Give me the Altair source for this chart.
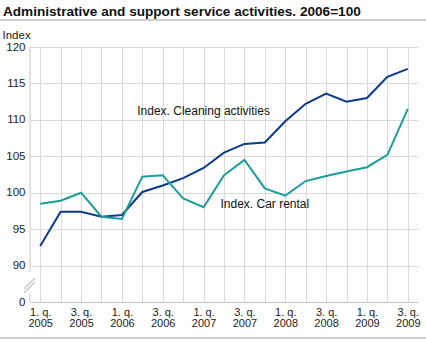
import altair as alt
import pandas as pd

quarters = ["2005Q1", "2005Q2", "2005Q3", "2005Q4",
            "2006Q1", "2006Q2", "2006Q3", "2006Q4",
            "2007Q1", "2007Q2", "2007Q3", "2007Q4",
            "2008Q1", "2008Q2", "2008Q3", "2008Q4",
            "2009Q1", "2009Q2", "2009Q3"]
cleaning = [92.7, 97.4, 97.4, 96.7, 96.95, 100.1, 101.0, 102.0, 103.4, 105.5,
            106.7, 106.9, 109.8, 112.2, 113.6, 112.5, 113.0, 115.9, 117.0]
car_rental = [98.5, 98.9, 100.0, 96.7, 96.4, 102.2, 102.4, 99.2, 98.0, 102.4,
              104.5, 100.6, 99.6, 101.6, 102.3, 102.9, 103.5, 105.2, 111.5]
series_names = ["Index. Cleaning activities", "Index. Car rental"]
colors = ["#0b3a8c", "#1a9e98"]
# axis break: the position of "85" on the scale is labelled 0
y_ticks = [85, 90, 95, 100, 105, 110, 115, 120]
title_text = "Administrative and support service activities. 2006=100"

rows = []
for q, c, r in zip(quarters, cleaning, car_rental):
    rows.append({"q": q, "series": series_names[0], "value": c})
    rows.append({"q": q, "series": series_names[1], "value": r})
df = pd.DataFrame(rows)

W, H = 388, 255
FONT = "Liberation Sans"

x_axis = alt.Axis(title=None, grid=True, gridColor="#d9d9d9", ticks=False,
                  domainColor="#c8c8c8", labelAngle=0, labelPadding=4,
                  labelFontSize=11, labelColor="#222", labelFont=FONT,
                  labelLineHeight=11, labelOverlap=False,
                  labelExpr="(substring(datum.value,5,6)=='1' || substring(datum.value,5,6)=='3') ? [substring(datum.value,5,6)+'. q.', substring(datum.value,0,4)] : ''")
x_scale = alt.Scale(type="point", padding=0.5)
y_scale = alt.Scale(domain=[85, 120], nice=False, zero=False)
y_axis = alt.Axis(values=y_ticks, title="Index", titleAngle=0, titleAlign="left",
                  titleBaseline="bottom", titleX=-28, titleY=-7,
                  titleFontWeight="normal", titleFontSize=11.5, titleFont=FONT,
                  titleColor="#222", labelOverlap=False,
                  labelExpr="datum.value == 85 ? '0' : datum.label",
                  grid=True, gridColor="#d9d9d9", ticks=False, domain=False,
                  labelFontSize=11.5, labelColor="#222", labelFont=FONT,
                  labelPadding=5)

lines = alt.Chart(df).mark_line(strokeWidth=2).encode(
    x=alt.X("q:O", sort=quarters, scale=x_scale, axis=x_axis),
    y=alt.Y("value:Q", scale=y_scale, axis=y_axis),
    color=alt.Color("series:N", scale=alt.Scale(domain=series_names, range=colors), legend=None),
)

lab_df = pd.DataFrame({"q": ["2007Q1", "2007Q4"], "value": [111.2, 98.4], "text": series_names})
labels = alt.Chart(lab_df).mark_text(fontSize=12, font=FONT, color="#111").encode(
    x=alt.X("q:O", sort=quarters, scale=x_scale, axis=x_axis),
    y=alt.Y("value:Q", scale=y_scale, axis=y_axis), text="text:N")

axis_df = pd.DataFrame({"value": [85, 89.1], "value2": [86.2, 120]})
axis_line = alt.Chart(axis_df).mark_rule(color="#c8c8c8", strokeWidth=1).encode(
    x=alt.value(0), y=alt.Y("value:Q", scale=y_scale, axis=y_axis), y2="value2:Q")

one = pd.DataFrame({"a": [1]})
slash1 = alt.Chart(one).mark_rule(color="#c8c8c8", strokeWidth=1.5).encode(
    x=alt.value(-6), x2=alt.value(5), y=alt.value(H - 13), y2=alt.value(H - 24))
slash2 = alt.Chart(one).mark_rule(color="#c8c8c8", strokeWidth=1.5).encode(
    x=alt.value(-6), x2=alt.value(5), y=alt.value(H - 9), y2=alt.value(H - 20))

top_line = alt.Chart(one).mark_rule(color="#a0a0a0", strokeWidth=1).encode(
    x=alt.value(-30), x2=alt.value(396), y=alt.value(-27))
bottom_line = alt.Chart(one).mark_rule(color="#a0a0a0", strokeWidth=1).encode(
    x=alt.value(-30), x2=alt.value(396), y=alt.value(H + 36))

title = alt.Chart(pd.DataFrame({"t": [title_text]})).mark_text(
    align="left", baseline="alphabetic", fontSize=13.6, font=FONT, fontWeight="bold",
    color="#111").encode(x=alt.value(-27), y=alt.value(-31), text="t:N")

chart = alt.layer(lines, labels, axis_line, slash1, slash2, top_line, bottom_line, title).properties(
    width=W, height=H,
    autosize=alt.AutoSizeParams(type="none"),
    padding={"left": 30, "top": 47, "right": 8, "bottom": 40},
).configure_view(stroke=None).configure_axisY(labelOverlap=False)

chart.save("out.html", embed_options={"renderer": "svg", "actions": False})
